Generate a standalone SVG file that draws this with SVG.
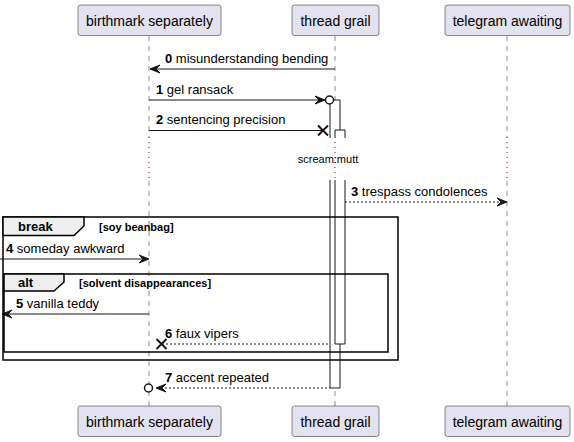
<svg xmlns="http://www.w3.org/2000/svg" width="574" height="442" viewBox="0 0 574 442">
<style>
.pbox{fill:#E2E2F0;stroke:#181818;stroke-width:0.5}
.pname{font-family:"Liberation Sans",Arial,sans-serif;font-size:14px;fill:#000;text-anchor:middle}
.life{stroke:#181818;stroke-width:0.5;stroke-dasharray:5,5;fill:none}
.delay{stroke:#A80036;stroke-width:1;stroke-dasharray:1,4;fill:none}
.msg{stroke:#181818;stroke-width:1;fill:none}
.dash{stroke:#181818;stroke-width:1;stroke-dasharray:2,2;fill:none}
.head{fill:#181818;stroke:#181818;stroke-width:1}
.lbl{font-family:"Liberation Sans",Arial,sans-serif;font-size:13px;fill:#000}
.num{font-weight:bold}
.actfill{fill:#FFFFFF;stroke:none}
.actl{stroke:#181818;stroke-width:1;fill:none}
.frame{fill:none;stroke:#000;stroke-width:1.5}
.tab{fill:#EEEEEE;stroke:#000;stroke-width:1.5}
.ftitle{font-family:"Liberation Sans",Arial,sans-serif;font-size:13px;font-weight:bold;fill:#000}
.fcond{font-family:"Liberation Sans",Arial,sans-serif;font-size:11px;font-weight:bold;fill:#000}
.dtext{font-family:"Liberation Sans",Arial,sans-serif;font-size:11px;fill:#000;text-anchor:middle}
.cross{stroke:#181818;stroke-width:2;fill:none}
.circ{fill:#FFFFFF;stroke:#181818;stroke-width:1.5}
</style>
<rect width="574" height="442" fill="#FFFFFF"/>
<g id="lifelines">
<line class="life" x1="149" y1="36" x2="149" y2="137"/>
<line class="life" x1="149" y1="181" x2="149" y2="406"/>
<line class="life" x1="335" y1="36" x2="335" y2="137"/>
<line class="life" x1="335" y1="181" x2="335" y2="406"/>
<line class="life" x1="507" y1="36" x2="507" y2="137"/>
<line class="life" x1="507" y1="181" x2="507" y2="406"/>
<line class="delay" x1="149" y1="137" x2="149" y2="181"/>
<line class="delay" x1="335" y1="137" x2="335" y2="181"/>
<line class="delay" x1="507" y1="137" x2="507" y2="181"/>
<text class="dtext" x="328" y="163">scream:mutt</text>
</g>
<g id="p-birthmark">
<rect class="pbox" x="78" y="5" width="143" height="30.5" rx="2.5"/>
<text class="pname" x="149.5" y="25.5">birthmark separately</text>
<rect class="pbox" x="78" y="406" width="143" height="30.5" rx="2.5"/>
<text class="pname" x="149.5" y="426.5">birthmark separately</text>
</g>
<g id="p-thread">
<rect class="pbox" x="292" y="5" width="87" height="30.5" rx="2.5"/>
<text class="pname" x="335.5" y="25.5">thread grail</text>
<rect class="pbox" x="292" y="406" width="87" height="30.5" rx="2.5"/>
<text class="pname" x="335.5" y="426.5">thread grail</text>
</g>
<g id="p-telegram">
<rect class="pbox" x="445" y="5" width="125" height="30.5" rx="2.5"/>
<text class="pname" x="507.5" y="25.5">telegram awaiting</text>
<rect class="pbox" x="445" y="406" width="125" height="30.5" rx="2.5"/>
<text class="pname" x="507.5" y="426.5">telegram awaiting</text>
</g>
<g id="activations">
<rect class="actfill" x="330" y="100" width="10" height="38"/>
<path class="actl" d="M330,138 V100 H340 V138"/>
<rect class="actfill" x="335" y="130" width="10" height="8"/>
<path class="actl" d="M335,138 V130 H345 V138"/>
<rect class="actfill" x="330" y="180" width="10" height="208"/>
<path class="actl" d="M330,180 V388 H340 V180"/>
<rect class="actfill" x="335" y="180" width="10" height="164"/>
<path class="actl" d="M335,180 V344 H345 V180"/>
</g>
<g id="connectors">
<line class="msg" x1="150" y1="69" x2="335" y2="69"/>
<polygon class="head" points="160,65 150,69 160,73 156,69"/>
<text class="lbl" x="165" y="63"><tspan class="num">0</tspan> misunderstanding bending</text>

<line class="msg" x1="149" y1="100" x2="324" y2="100"/>
<polygon class="head" points="315,96 325,100 315,104 319,100"/>
<circle class="circ" cx="329.5" cy="100" r="4"/>
<text class="lbl" x="156" y="94"><tspan class="num">1</tspan> gel ransack</text>

<line class="msg" x1="149" y1="130.5" x2="323" y2="130.5"/>
<path class="cross" d="M318,125.5 L328,135.5 M318,135.5 L328,125.5"/>
<text class="lbl" x="156" y="124"><tspan class="num">2</tspan> sentencing precision</text>

<line class="dash" x1="345" y1="202" x2="506" y2="202"/>
<polygon class="head" points="497,198 507,202 497,206 501,202"/>
<text class="lbl" x="351" y="196"><tspan class="num">3</tspan> trespass condolences</text>

<line class="msg" x1="0" y1="259" x2="148" y2="259"/>
<polygon class="head" points="139,255 149,259 139,263 143,259"/>
<text class="lbl" x="6" y="253"><tspan class="num">4</tspan> someday awkward</text>

<line class="msg" x1="3" y1="314" x2="149" y2="314"/>
<polygon class="head" points="12,310 2,314 12,318 8,314"/>
<text class="lbl" x="16" y="308"><tspan class="num">5</tspan> vanilla teddy</text>

<line class="dash" x1="162" y1="344" x2="330" y2="344"/>
<path class="cross" d="M156.5,339 L166.5,349 M156.5,349 L166.5,339"/>
<text class="lbl" x="165" y="338"><tspan class="num">6</tspan> faux vipers</text>

<line class="dash" x1="157" y1="388" x2="330" y2="388"/>
<polygon class="head" points="166,384 156,388 166,392 162,388"/>
<circle class="circ" cx="148.5" cy="388" r="4"/>
<text class="lbl" x="165" y="382"><tspan class="num">7</tspan> accent repeated</text>
</g>
<g id="frame-break">
<rect class="frame" x="3" y="217" width="395" height="143"/>
<polygon class="tab" points="3,217 84,217 84,226 74,235.5 3,235.5"/>
<text class="ftitle" x="18" y="231">break</text>
<text class="fcond" x="99" y="231">[soy beanbag]</text>
</g>
<g id="frame-alt">
<rect class="frame" x="4" y="274" width="384" height="78"/>
<polygon class="tab" points="4,274 64,274 64,282 54,291 4,291"/>
<text class="ftitle" x="18" y="287">alt</text>
<text class="fcond" x="79" y="287">[solvent disappearances]</text>
</g>
</svg>
